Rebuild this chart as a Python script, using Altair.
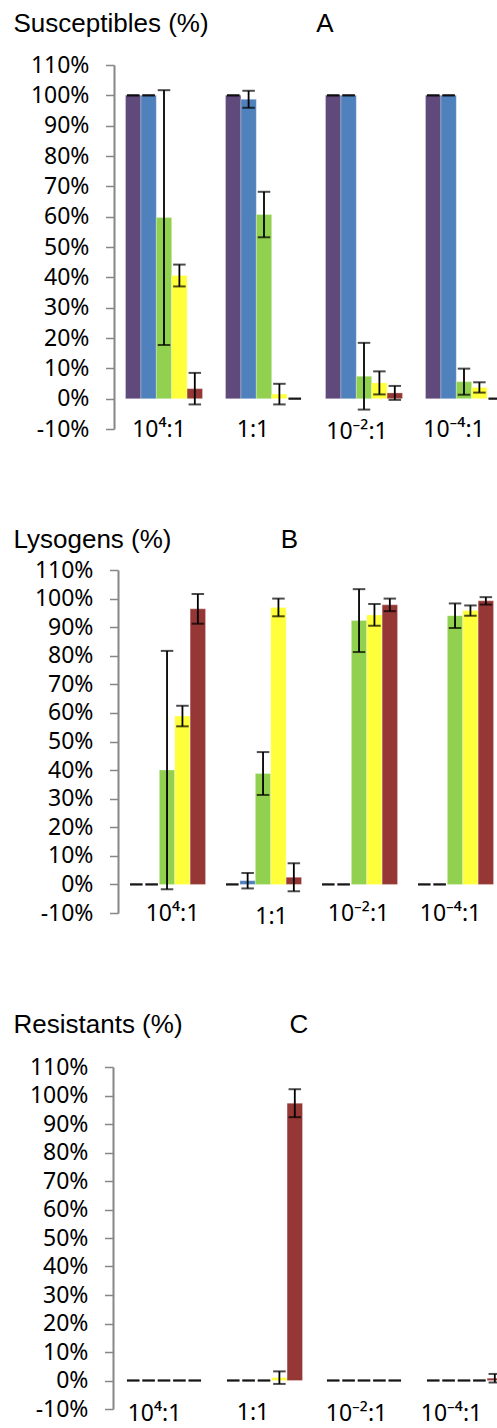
import altair as alt
import pandas as pd

# Phage:bacteria input ratios (x categories) and the five strains per ratio
ratios = ["10⁴:1", "1:1", "10⁻²:1", "10⁻⁴:1"]
strains = ["S1", "S2", "S3", "S4", "S5"]
strain_colors = ["#604A7B", "#4F81BD", "#92D050", "#FFFF3C", "#953735"]

# One row per ratio, one value per strain (percent of population)
susceptible_mean = [
    [100, 100, 59.7, 40.6, 3.3],
    [100, 98.7, 60.7, 1.5, 0],
    [100, 100, 7.4, 5.2, 1.9],
    [100, 100, 5.6, 3.7, 0],
]
susceptible_err = [
    [0, 0, 42.0, 3.6, 5.2],
    [0, 2.8, 7.5, 3.4, 0],
    [0, 0, 11.0, 3.8, 2.3],
    [0, 0, 4.3, 1.7, 0],
]

lysogen_mean = [
    [0, 0, 40.0, 58.9, 96.4],
    [0, 1.3, 38.8, 96.9, 2.5],
    [0, 0, 92.3, 94.3, 97.8],
    [0, 0, 94.0, 95.8, 99.2],
]
lysogen_err = [
    [0, 0, 41.7, 3.6, 5.2],
    [0, 2.7, 7.5, 3.1, 4.9],
    [0, 0, 11.0, 3.8, 2.2],
    [0, 0, 4.3, 1.8, 1.3],
]

resistant_mean = [
    [0, 0, 0, 0, 0],
    [0, 0, 0, 1.0, 97.3],
    [0, 0, 0, 0, 0],
    [0, 0, 0, 0, 0.8],
]
resistant_err = [
    [0, 0, 0, 0, 0],
    [0, 0, 0, 2.2, 4.9],
    [0, 0, 0, 0, 0],
    [0, 0, 0, 0, 1.5],
]

y_ticks = list(range(-10, 111, 10))
TITLE_FONT = "Liberation Sans"
LABEL_FONT = "Noto Sans"


def long_table(means, errs):
    rows = []
    for ratio, m_row, e_row in zip(ratios, means, errs):
        for strain, m, e in zip(strains, m_row, e_row):
            rows.append({"ratio": ratio, "strain": strain,
                         "mean": m, "lo": m - e, "hi": m + e})
    return pd.DataFrame(rows)


def per_label(values, default):
    # expression picking a per-category number for axis label placement
    arr = ",".join(str(v) for v in values)
    names = ",".join("'" + r + "'" for r in ratios)
    return {"expr": f"indexof([{names}], datum.value) >= 0 ? "
                    f"[{arr}][indexof([{names}], datum.value)] : {default}"}


def panel(df, heading, letter, height, y_span, step, x_start, axis_shift,
          heading_pos, letter_pos, label_pad, label_shift):
    x_scale = alt.Scale(domain=ratios, range=[x_start, x_start + 4 * step],
                        paddingInner=0.23, paddingOuter=0.115)
    y_scale = alt.Scale(domain=[-10, 110], range=[y_span, 0], nice=False, zero=False)

    x_axis = alt.Axis(
        title=letter, titleX=letter_pos[0], titleY=letter_pos[1],
        titleAlign="center", titleBaseline="alphabetic", titleAngle=0,
        titleFont=TITLE_FONT, titleFontSize=26, titleFontWeight="normal",
        titleColor="black",
        domain=False, ticks=False, tickSize=0, labelAngle=0,
        labelFont=LABEL_FONT, labelFontSize=23, labelColor="black",
        labelBaseline="middle", labelPadding=per_label(label_pad, 0),
        labelOffset=per_label(label_shift, 0),
    )
    y_axis = alt.Axis(
        title=heading, titleAngle=0, titleAlign="left", titleBaseline="alphabetic",
        titleX=heading_pos[0], titleY=heading_pos[1],
        titleFont=TITLE_FONT, titleFontSize=26, titleFontWeight="normal",
        titleColor="black",
        values=y_ticks, labelExpr="datum.value + '%'", grid=False,
        domainColor="#868686", domainWidth=2,
        tickColor="#868686", tickWidth=1.5, tickSize=8.5,
        labelPadding=16.5, labelFont=LABEL_FONT, labelFontSize=23,
        labelColor="black", offset=axis_shift,
    )

    x_enc = alt.X("ratio:N", scale=x_scale, sort=ratios, axis=x_axis)
    xo_enc = alt.XOffset("strain:N", sort=strains, scale=alt.Scale(domain=strains))

    base = alt.Chart(df)
    bars = base.mark_bar(
        clip=True, stroke="white", strokeWidth=0.8, strokeOpacity=0.35
    ).encode(
        x=x_enc, xOffset=xo_enc,
        y=alt.Y("mean:Q", scale=y_scale, axis=y_axis),
        y2=alt.datum(0),
        color=alt.Color("strain:N", scale=alt.Scale(domain=strains, range=strain_colors),
                        legend=None),
    )
    whiskers = base.mark_rule(clip=True, color="black", strokeWidth=1.8).encode(
        x=x_enc, xOffset=xo_enc,
        y=alt.Y("lo:Q", scale=y_scale, axis=y_axis),
        y2="hi:Q",
    )
    caps = base.transform_fold(["lo", "hi"], as_=["end", "level"]).mark_tick(
        clip=True, color="black", thickness=2, size=12.5
    ).encode(
        x=x_enc, xOffset=xo_enc,
        y=alt.Y("level:Q", scale=y_scale, axis=y_axis),
    )
    return alt.layer(bars, whiskers, caps).properties(width=383, height=height)


susceptibles = panel(
    long_table(susceptible_mean, susceptible_err), "Susceptibles (%)", "A",
    height=364, y_span=364, step=100, x_start=0, axis_shift=0,
    heading_pos=(-101, -34), letter_pos=(210.5, -398),
    label_pad=[0, 0, 2, 0], label_shift=[-5, -11, -7, -10],
)
lysogens = panel(
    long_table(lysogen_mean, lysogen_err), "Lysogens (%)", "B",
    height=356, y_span=343, step=96, x_start=3.5, axis_shift=-4,
    heading_pos=(-105, -23), letter_pos=(175, -379),
    label_pad=[-13, -10, -13, -13], label_shift=[7, 10, 1, -3],
)
resistants = panel(
    long_table(resistant_mean, resistant_err), "Resistants (%)", "C",
    height=342, y_span=342, step=100, x_start=0, axis_shift=1,
    heading_pos=(-100, -35), letter_pos=(184.5, -377),
    label_pad=[4, 3, 4, 4], label_shift=[-9.5, -11, -7.5, -12.5],
)

# Fixed page frame: first plot origin at (114, 65); the panel stack fills the
# rest of the 497 x 1428 page below it
chart = alt.vconcat(
    susceptibles, lysogens, resistants, spacing=141, bounds="flush"
).properties(
    autosize=alt.AutoSizeParams(type="none"),
    padding={"left": 114, "top": 65, "right": 0, "bottom": 1363},
).configure_view(strokeWidth=0)

chart.save("out.html", embed_options={"renderer": "svg", "actions": False})
